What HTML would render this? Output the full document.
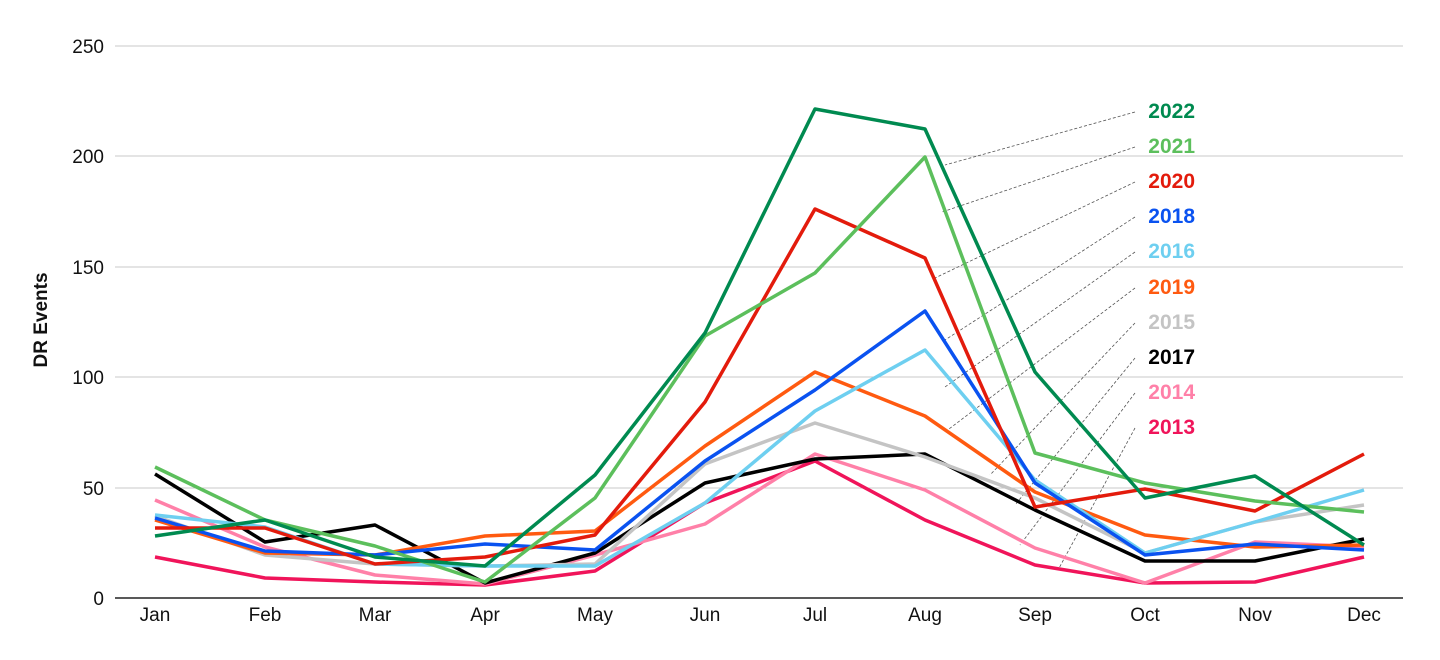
<!DOCTYPE html>
<html><head><meta charset="utf-8"><style>
body{margin:0;background:#fff;}
svg{display:block;font-family:"Liberation Sans",sans-serif;}
</style></head><body>
<svg width="1440" height="660" viewBox="0 0 1440 660">
<g stroke="#c8c8c8" stroke-width="1">
<line x1="115" y1="46" x2="1403" y2="46"/><line x1="115" y1="156" x2="1403" y2="156"/>
<line x1="115" y1="267" x2="1403" y2="267"/><line x1="115" y1="377" x2="1403" y2="377"/>
<line x1="115" y1="488" x2="1403" y2="488"/>
</g>
<line x1="115" y1="598" x2="1403" y2="598" stroke="#222" stroke-width="1.5"/>
<g font-size="19" fill="#111" text-anchor="end">
<text x="104" y="53">250</text><text x="104" y="163">200</text><text x="104" y="274">150</text>
<text x="104" y="384">100</text><text x="104" y="495">50</text><text x="104" y="605">0</text>
</g>
<text transform="translate(47,320) rotate(-90)" font-size="19" font-weight="bold" text-anchor="middle" fill="#111">DR Events</text>
<g font-size="19" fill="#111" text-anchor="middle">
<text x="155" y="621">Jan</text><text x="265" y="621">Feb</text><text x="375" y="621">Mar</text><text x="485" y="621">Apr</text>
<text x="595" y="621">May</text><text x="705" y="621">Jun</text><text x="815" y="621">Jul</text><text x="925" y="621">Aug</text>
<text x="1035" y="621">Sep</text><text x="1145" y="621">Oct</text><text x="1255" y="621">Nov</text><text x="1364" y="621">Dec</text>
</g>
<g stroke="#555" stroke-width="0.8" stroke-dasharray="3,2" fill="none">
<line x1="1135" y1="112" x2="945" y2="165"/>
<line x1="1135" y1="147" x2="942" y2="212"/>
<line x1="1135" y1="182" x2="935" y2="278"/>
<line x1="1135" y1="217" x2="945" y2="340"/>
<line x1="1135" y1="252" x2="945" y2="387"/>
<line x1="1135" y1="288" x2="945" y2="432"/>
<line x1="1135" y1="323" x2="990" y2="475"/>
<line x1="1135" y1="358" x2="1015" y2="505"/>
<line x1="1135" y1="393" x2="1020" y2="545"/>
<line x1="1135" y1="428" x2="1058" y2="570"/>
</g>
<g fill="none" stroke-width="3.5" stroke-linejoin="round">
<polyline stroke="#f0145a" points="155,557 265,578 375,582 485,585 595,571 705,503 815,461 925,520 1035,565 1145,583 1255,582 1364,557"/>
<polyline stroke="#ff80a8" points="155,500 265,547 375,575 485,584 595,555 705,524 815,454 925,490 1035,548 1145,583 1255,542 1364,547"/>
<polyline stroke="#000" points="155,474 265,542 375,525 485,583 595,553 705,483 815,459 925,454 1035,510 1145,561 1255,561 1364,539"/>
<polyline stroke="#c4c4c4" points="155,516 265,555 375,564 485,566 595,564 705,464 815,423 925,457 1035,498 1145,553 1255,522 1364,505"/>
<polyline stroke="#ff5a10" points="155,520 265,553 375,555 485,536 595,531 705,446 815,372 925,416 1035,492 1145,535 1255,547 1364,545"/>
<polyline stroke="#6ecff0" points="155,515 265,527 375,564 485,566 595,566 705,503 815,411 925,350 1035,480 1145,553 1255,522 1364,490"/>
<polyline stroke="#0a52f0" points="155,518 265,551 375,555 485,544 595,550 705,461 815,390 925,311 1035,483 1145,555 1255,544 1364,550"/>
<polyline stroke="#e31b0c" points="155,528 265,528 375,564 485,557 595,535 705,402 815,209 925,258 1035,507 1145,489 1255,511 1364,454"/>
<polyline stroke="#5cbf5c" points="155,467 265,520 375,546 485,582 595,498 705,336 815,273 925,157 1035,453 1145,483 1255,501 1364,512"/>
<polyline stroke="#008a50" points="155,536 265,520 375,557 485,566 595,475 705,333 815,109 925,129 1035,372 1145,498 1255,476 1364,545"/>
</g>
<g font-size="21" font-weight="bold" text-anchor="end">
<text x="1195" y="118" fill="#008a50">2022</text>
<text x="1195" y="153" fill="#5cbf5c">2021</text>
<text x="1195" y="188" fill="#e31b0c">2020</text>
<text x="1195" y="223" fill="#0a52f0">2018</text>
<text x="1195" y="258" fill="#6ecff0">2016</text>
<text x="1195" y="294" fill="#ff5a10">2019</text>
<text x="1195" y="329" fill="#c4c4c4">2015</text>
<text x="1195" y="364" fill="#000">2017</text>
<text x="1195" y="399" fill="#ff80a8">2014</text>
<text x="1195" y="434" fill="#f0145a">2013</text>
</g>
</svg>
</body></html>
